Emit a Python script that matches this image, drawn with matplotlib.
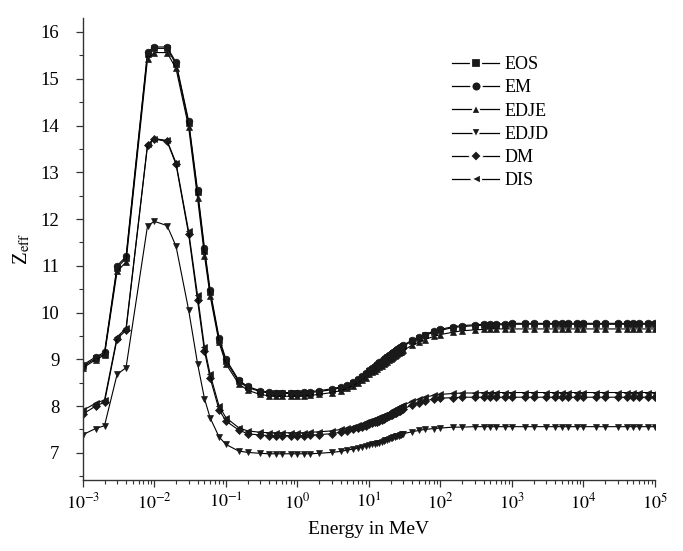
import matplotlib
matplotlib.use("Agg")
import matplotlib.pyplot as plt
from matplotlib.lines import Line2D
from matplotlib.ticker import LogLocator, MultipleLocator, NullFormatter, FixedLocator

plt.rcParams['font.family'] = ['Liberation Serif', 'DejaVu Serif']
plt.rcParams['mathtext.fontset'] = 'stix'

# Photon energies (MeV)
energy = [0.001, 0.0015, 0.002, 0.003, 0.004, 0.008, 0.01, 0.015, 0.02, 0.03,
          0.04, 0.05, 0.06, 0.08, 0.1, 0.15, 0.2, 0.3, 0.4, 0.5,
          0.6, 0.8, 1, 1.25, 1.5, 2, 3, 4, 5, 6,
          7, 8, 9, 10, 11, 12, 13, 14, 15, 16,
          17, 18, 19, 20, 21, 22, 23, 24, 25, 26,
          27, 28, 29, 30, 40, 50, 60, 80, 100, 150,
          200, 300, 400, 500, 600, 800, 1000, 1500, 2000, 3000,
          4000, 5000, 6000, 8000, 10000, 15000, 20000, 30000, 40000, 50000,
          60000, 80000, 100000]

zeff_eos = [8.85, 9.02, 9.12, 10.96, 11.16, 15.54, 15.65, 15.65, 15.31, 14.06,
            12.57, 11.32, 10.43, 9.42, 8.96, 8.53, 8.40, 8.31, 8.28, 8.27,
            8.27, 8.27, 8.27, 8.28, 8.29, 8.31, 8.35, 8.39, 8.44, 8.50,
            8.56, 8.62, 8.68, 8.76, 8.80, 8.84, 8.88, 8.92, 8.95, 8.98,
            9.01, 9.04, 9.07, 9.10, 9.12, 9.14, 9.16, 9.18, 9.20, 9.22,
            9.24, 9.25, 9.27, 9.28, 9.39, 9.46, 9.51, 9.58, 9.62, 9.68,
            9.70, 9.72, 9.73, 9.74, 9.74, 9.74, 9.75, 9.75, 9.75, 9.75,
            9.75, 9.75, 9.75, 9.75, 9.75, 9.75, 9.75, 9.75, 9.75, 9.75,
            9.75, 9.75, 9.75]

zeff_em = [8.88, 9.05, 9.15, 11.00, 11.20, 15.58, 15.68, 15.68, 15.35, 14.10,
           12.62, 11.38, 10.48, 9.46, 9.00, 8.56, 8.42, 8.33, 8.30, 8.29,
           8.29, 8.29, 8.29, 8.30, 8.31, 8.33, 8.37, 8.41, 8.46, 8.52,
           8.58, 8.64, 8.70, 8.78, 8.82, 8.86, 8.90, 8.94, 8.97, 9.00,
           9.03, 9.06, 9.09, 9.12, 9.14, 9.16, 9.18, 9.20, 9.22, 9.24,
           9.26, 9.27, 9.29, 9.30, 9.41, 9.48, 9.53, 9.60, 9.64, 9.70,
           9.72, 9.74, 9.75, 9.76, 9.76, 9.76, 9.77, 9.77, 9.77, 9.77,
           9.77, 9.77, 9.77, 9.77, 9.77, 9.77, 9.77, 9.77, 9.77, 9.77,
           9.77, 9.77, 9.77]

zeff_edje = [8.82, 8.99, 9.09, 10.88, 11.08, 15.43, 15.56, 15.56, 15.22, 13.97,
             12.45, 11.22, 10.36, 9.36, 8.90, 8.48, 8.34, 8.25, 8.22, 8.21,
             8.21, 8.21, 8.21, 8.22, 8.23, 8.25, 8.29, 8.33, 8.38, 8.44,
             8.50, 8.55, 8.61, 8.68, 8.72, 8.76, 8.80, 8.83, 8.86, 8.89,
             8.92, 8.95, 8.98, 9.01, 9.03, 9.05, 9.07, 9.09, 9.11, 9.13,
             9.15, 9.16, 9.18, 9.19, 9.30, 9.37, 9.42, 9.49, 9.53, 9.58,
             9.61, 9.63, 9.64, 9.65, 9.65, 9.65, 9.65, 9.65, 9.65, 9.65,
             9.65, 9.65, 9.65, 9.65, 9.65, 9.65, 9.65, 9.65, 9.65, 9.65,
             9.65, 9.65, 9.65]

zeff_edjd = [7.39, 7.52, 7.58, 8.68, 8.82, 11.86, 11.95, 11.86, 11.42, 10.06,
             8.91, 8.16, 7.75, 7.34, 7.18, 7.04, 7.01, 6.99, 6.98, 6.98,
             6.98, 6.98, 6.98, 6.98, 6.98, 6.99, 7.01, 7.03, 7.06, 7.08,
             7.10, 7.12, 7.14, 7.16, 7.18, 7.19, 7.21, 7.22, 7.24, 7.25,
             7.27, 7.28, 7.29, 7.31, 7.32, 7.33, 7.34, 7.35, 7.36, 7.37,
             7.38, 7.39, 7.40, 7.41, 7.45, 7.48, 7.50, 7.52, 7.53, 7.55,
             7.55, 7.56, 7.56, 7.56, 7.56, 7.56, 7.56, 7.56, 7.56, 7.56,
             7.56, 7.56, 7.56, 7.56, 7.56, 7.56, 7.56, 7.56, 7.56, 7.56,
             7.56, 7.56, 7.56]

zeff_dm = [7.83, 8.00, 8.08, 9.44, 9.62, 13.58, 13.71, 13.66, 13.17, 11.68,
           10.26, 9.18, 8.60, 7.92, 7.68, 7.49, 7.41, 7.38, 7.37, 7.37,
           7.37, 7.37, 7.37, 7.37, 7.38, 7.39, 7.41, 7.44, 7.47, 7.50,
           7.53, 7.56, 7.58, 7.61, 7.63, 7.65, 7.67, 7.69, 7.71, 7.73,
           7.75, 7.77, 7.79, 7.80, 7.82, 7.83, 7.85, 7.86, 7.88, 7.89,
           7.90, 7.92, 7.93, 7.94, 8.02, 8.07, 8.11, 8.15, 8.17, 8.18,
           8.19, 8.19, 8.19, 8.19, 8.19, 8.19, 8.19, 8.19, 8.19, 8.19,
           8.19, 8.19, 8.19, 8.19, 8.19, 8.19, 8.19, 8.19, 8.19, 8.19,
           8.19, 8.19, 8.19]

zeff_dis = [7.91, 8.06, 8.13, 9.48, 9.66, 13.60, 13.72, 13.68, 13.20, 11.74,
            10.37, 9.26, 8.68, 8.00, 7.75, 7.54, 7.47, 7.44, 7.43, 7.43,
            7.43, 7.43, 7.43, 7.43, 7.44, 7.45, 7.47, 7.50, 7.53, 7.56,
            7.59, 7.62, 7.65, 7.68, 7.70, 7.72, 7.74, 7.76, 7.78, 7.80,
            7.82, 7.84, 7.86, 7.88, 7.89, 7.91, 7.92, 7.94, 7.95, 7.97,
            7.98, 8.00, 8.01, 8.02, 8.10, 8.15, 8.19, 8.23, 8.25, 8.27,
            8.28, 8.28, 8.29, 8.29, 8.29, 8.29, 8.29, 8.29, 8.29, 8.29,
            8.29, 8.29, 8.29, 8.29, 8.29, 8.29, 8.29, 8.29, 8.29, 8.29,
            8.29, 8.29, 8.29]

series_names = ['EOS', 'EM', 'EDJE', 'EDJD', 'DM', 'DIS']
series_values = [zeff_eos, zeff_em, zeff_edje, zeff_edjd, zeff_dm, zeff_dis]
series_markers = ['s', 'o', '^', 'v', 'D', '<']
marker_sizes = [4.4, 4.8, 5.0, 5.0, 4.0, 5.0]

fig = plt.figure(figsize=(6.83, 5.51), dpi=100)
ax = fig.add_axes([0.1215, 0.1289, 0.8375, 0.8385])

for name, vals, mk, ms in zip(series_names, series_values, series_markers, marker_sizes):
    ax.plot(energy, vals, color='black', lw=0.8, marker=mk, ms=ms,
            mfc='#1a1a1a', mec='#1a1a1a', mew=0.5, label=name)

ax.set_xscale('log')
ax.set_xlim(1e-3, 1e5)
ax.set_ylim(6.42, 16.3)

decades = [1e-3, 1e-2, 1e-1, 1e0, 1e1, 1e2, 1e3, 1e4, 1e5]
decade_labels = [r'$10^{-3}$', r'$10^{-2}$', r'$10^{-1}$', r'$10^{0}$', r'$10^{1}$',
                 r'$10^{2}$', r'$10^{3}$', r'$10^{4}$', r'$10^{5}$']
ax.xaxis.set_major_locator(FixedLocator(decades))
ax.set_xticklabels(decade_labels)
ax.xaxis.set_minor_locator(LogLocator(base=10, subs=[2, 3, 4, 5, 6, 7, 8, 9], numticks=20))
ax.xaxis.set_minor_formatter(NullFormatter())

y_ticks = [7, 8, 9, 10, 11, 12, 13, 14, 15, 16]
ax.yaxis.set_major_locator(FixedLocator(y_ticks))
ax.yaxis.set_minor_locator(MultipleLocator(0.5))

for side in ['top', 'right']:
    ax.spines[side].set_visible(False)
for side in ['left', 'bottom']:
    ax.spines[side].set_color('#333333')
    ax.spines[side].set_linewidth(1.0)

ax.tick_params(which='major', direction='out', length=5, width=0.9, colors='#333333',
               labelcolor='black')
ax.tick_params(which='minor', direction='out', length=3, width=0.8, colors='#333333')
ax.tick_params(axis='y', which='major', labelsize=13.5, pad=12)
ax.tick_params(axis='x', which='major', labelsize=13, pad=4)

ax.set_xlabel('Energy in MeV', fontsize=14, labelpad=6)
ax.set_ylabel(r'Z$_{\mathrm{eff}}$', fontsize=15, labelpad=6)

# Legend keys: a line broken by a white ring around each marker
handles = [Line2D([], [], color='black', lw=0.9, marker=mk, ms=ms + 2.6,
                  mfc='#1a1a1a', mec='white', mew=1.6)
           for mk, ms in zip(series_markers, marker_sizes)]
leg = fig.legend(handles, series_names, loc='upper left',
                 bbox_to_anchor=(0.662, 0.898), frameon=False,
                 fontsize=13, handlelength=2.6, handletextpad=0.3,
                 labelspacing=0.345, borderpad=0, borderaxespad=0)

fig.savefig('out.png', dpi=100)
